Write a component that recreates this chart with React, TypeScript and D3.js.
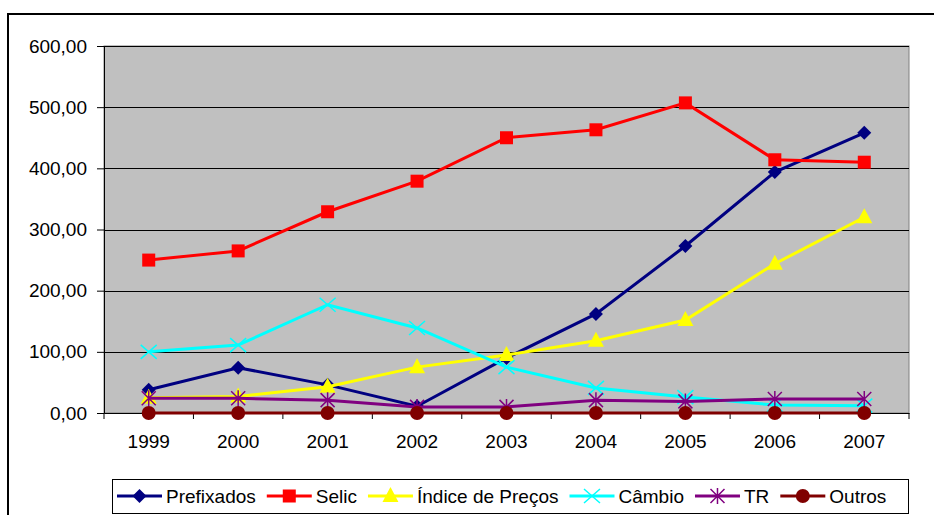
import React, { useEffect, useRef } from 'react';
import * as d3 from 'd3';

const years = ['1999', '2000', '2001', '2002', '2003', '2004', '2005', '2006', '2007'];
const prefixados = [38, 74, 46, 11, 90, 162, 273, 394, 458];
const selic = [250, 265, 329, 379, 450, 463, 507, 414, 410];
const indicePrecos = [25, 27, 43, 75, 95, 118, 152, 244, 320];
const cambio = [100, 111, 177, 139, 75, 41, 26, 13, 12];
const tr = [24, 24, 21, 10, 10, 21, 19, 23, 23];
const outros = [0, 0, 0, 0, 0, 0, 0, 0, 0];
const yTicks = [0, 100, 200, 300, 400, 500, 600];

const series = [
  { name: 'Prefixados', values: prefixados, color: '#000080', marker: 'diamond' },
  { name: 'Selic', values: selic, color: '#FF0000', marker: 'square' },
  { name: 'Índice de Preços', values: indicePrecos, color: '#FFFF00', marker: 'triangle' },
  { name: 'Câmbio', values: cambio, color: '#00FFFF', marker: 'x' },
  { name: 'TR', values: tr, color: '#800080', marker: 'star' },
  { name: 'Outros', values: outros, color: '#800000', marker: 'circle' },
];

const FONT = 'Liberation Sans, Arial, sans-serif';
const fmt = (v: number) => v.toFixed(2).replace('.', ',');

function drawMarker(g: any, type: string, color: string) {
  if (type === 'diamond') {
    g.append('path').attr('d', 'M0,-7L7,0L0,7L-7,0Z').attr('fill', color);
  } else if (type === 'square') {
    g.append('rect').attr('x', -6.5).attr('y', -6.5).attr('width', 13).attr('height', 13).attr('fill', color);
  } else if (type === 'triangle') {
    g.append('path').attr('d', 'M0,-9L8,6L-8,6Z').attr('fill', color);
  } else if (type === 'x') {
    g.append('path').attr('d', 'M-8,-7L8,7M-8,7L8,-7').attr('stroke', color).attr('stroke-width', 1.5);
  } else if (type === 'star') {
    g.append('path').attr('d', 'M-7,-7L7,7M-7,7L7,-7M0,-8L0,8').attr('stroke', color).attr('stroke-width', 1.5);
  } else {
    g.append('circle').attr('r', 7).attr('fill', color);
  }
}

const App = () => {
  const ref = useRef<SVGSVGElement>(null);

  useEffect(() => {
    const svg = d3.select(ref.current);
    svg.selectAll('*').remove();

    const left = 104, right = 909, top = 46, bottom = 413;

    // chart frame
    svg.append('rect').attr('width', 934).attr('height', 515).attr('fill', '#fff');
    svg.append('rect').attr('x', 8).attr('y', 14).attr('width', 940).attr('height', 520)
      .attr('fill', 'none').attr('stroke', '#000').attr('stroke-width', 2);

    const x = d3.scaleBand().domain(years).range([left, right]);
    const y = d3.scaleLinear().domain([0, 600]).range([bottom, top]);

    svg.append('rect').attr('x', left).attr('y', top).attr('width', right - left).attr('height', bottom - top)
      .attr('fill', '#C0C0C0').attr('stroke', '#808080').attr('stroke-width', 1);

    // gridlines
    svg.append('g').selectAll('line').data(yTicks.filter(t => t > 0)).enter().append('line')
      .attr('x1', left).attr('x2', right)
      .attr('y1', d => Math.round(y(d)) + 0.5).attr('y2', d => Math.round(y(d)) + 0.5)
      .attr('stroke', '#000').attr('stroke-width', 1);

    // y axis
    const yAxis = svg.append('g').attr('transform', `translate(${left},0)`)
      .call(d3.axisLeft(y).tickValues(yTicks).tickFormat(d => fmt(+d)).tickSize(7).tickPadding(10));
    yAxis.select('.domain').attr('stroke', '#000');
    yAxis.selectAll('text').attr('font-family', FONT).attr('font-size', 19).attr('fill', '#000');

    // x axis
    const xAxis = svg.append('g').attr('transform', `translate(0,${bottom})`)
      .call(d3.axisBottom(x).tickSize(0).tickPadding(22));
    xAxis.select('.domain').attr('stroke', '#000');
    xAxis.selectAll('text').attr('font-family', FONT).attr('font-size', 19).attr('fill', '#000');
    svg.append('g').selectAll('line').data(years.concat(['end'])).enter().append('line')
      .attr('x1', (_, i) => left + i * x.step()).attr('x2', (_, i) => left + i * x.step())
      .attr('y1', bottom).attr('y2', bottom + 6).attr('stroke', '#000');

    const cx = (i: number) => (x(years[i]) as number) + x.bandwidth() / 2;
    const line = d3.line<number>().x((_, i) => cx(i)).y(d => y(d));

    series.forEach(s => {
      svg.append('path').datum(s.values).attr('d', line).attr('fill', 'none')
        .attr('stroke', s.color).attr('stroke-width', 3);
      s.values.forEach((v, i) => {
        const g = svg.append('g').attr('transform', `translate(${cx(i)},${y(v)})`);
        drawMarker(g, s.marker, s.color);
      });
    });

    // legend
    const lg = svg.append('g');
    lg.append('rect').attr('x', 112.5).attr('y', 479.5).attr('width', 796).attr('height', 34)
      .attr('fill', '#fff').attr('stroke', '#000').attr('stroke-width', 1);
    let lx = 117;
    const ly = 496;
    series.forEach(s => {
      lg.append('line').attr('x1', lx).attr('x2', lx + 45).attr('y1', ly).attr('y2', ly)
        .attr('stroke', s.color).attr('stroke-width', 3);
      drawMarker(lg.append('g').attr('transform', `translate(${lx + 22.5},${ly})`), s.marker, s.color);
      const t = lg.append('text').attr('x', lx + 49).attr('y', ly + 7)
        .attr('font-family', FONT).attr('font-size', 19).text(s.name);
      const w = (t.node() as SVGTextElement).getComputedTextLength();
      lx += 49 + w + 11;
    });
  }, []);

  return (
    <div style={{ position: 'absolute', left: 0, top: 0 }}>
      <svg ref={ref} width={934} height={515} />
    </div>
  );
};

export default App;
